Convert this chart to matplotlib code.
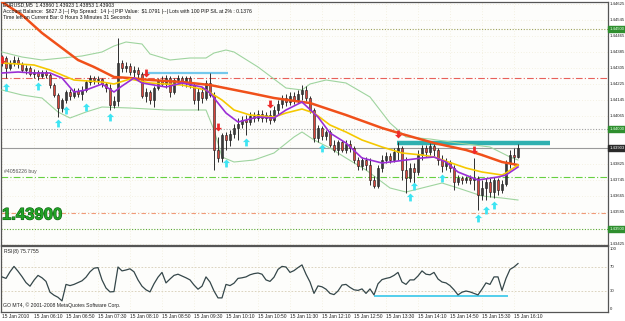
#!/usr/bin/env python3
"""
EURUSD M5 snapshot (MT4 style) redrawn with matplotlib
"""
import numpy as np
import matplotlib
matplotlib.use("Agg")
import matplotlib.pyplot as plt
import matplotlib.patheffects as pe
from matplotlib.path import Path
from matplotlib.transforms import blended_transform_factory

# ---- candles, 15 Jan 2010 05:30 .. 16:20, one bar per 5 minutes ----
OPEN = [
    1.44335, 1.44355, 1.44305, 1.44330, 1.44345, 1.44325, 1.44295, 1.44305, 1.44275, 1.44285,
    1.44265, 1.44285, 1.44270, 1.44220, 1.44170, 1.44105, 1.44145, 1.44185, 1.44165, 1.44190,
    1.44175, 1.44195, 1.44235, 1.44255, 1.44245, 1.44250, 1.44225, 1.44205, 1.44120, 1.44140,
    1.44330, 1.44305, 1.44315, 1.44285, 1.44295, 1.44275, 1.44165, 1.44185, 1.44145, 1.44205,
    1.44245, 1.44225, 1.44255, 1.44185, 1.44245, 1.44255, 1.44235, 1.44255, 1.44220, 1.44145,
    1.44185, 1.44155, 1.44230, 1.44170, 1.43895, 1.43855, 1.43970, 1.43945, 1.43975, 1.44005,
    1.44025, 1.44045, 1.44035, 1.44065, 1.44055, 1.44075, 1.44055, 1.44070, 1.44045, 1.44095,
    1.44125, 1.44155, 1.44135, 1.44165, 1.44145, 1.44175, 1.44195, 1.44155, 1.44095, 1.43955,
    1.44005, 1.43965, 1.43985, 1.43920, 1.43895, 1.43935, 1.43895, 1.43925, 1.43905, 1.43845,
    1.43815, 1.43845, 1.43820, 1.43745, 1.43715, 1.43805, 1.43845, 1.43865, 1.43845, 1.43885,
    1.43905, 1.43795, 1.43755, 1.43805, 1.43785, 1.43870, 1.43905, 1.43885, 1.43915, 1.43895,
    1.43845, 1.43815, 1.43835, 1.43805, 1.43735, 1.43755, 1.43745, 1.43755, 1.43745, 1.43755,
    1.43670, 1.43705, 1.43735, 1.43685, 1.43745, 1.43695, 1.43725, 1.43830, 1.43870, 1.43860,
]
HIGH = [
    1.44370, 1.44365, 1.44345, 1.44365, 1.44360, 1.44335, 1.44320, 1.44315, 1.44300, 1.44295,
    1.44295, 1.44295, 1.44280, 1.44230, 1.44180, 1.44155, 1.44195, 1.44200, 1.44205, 1.44205,
    1.44215, 1.44245, 1.44270, 1.44265, 1.44265, 1.44255, 1.44235, 1.44225, 1.44165, 1.44455,
    1.44345, 1.44335, 1.44330, 1.44315, 1.44310, 1.44285, 1.44205, 1.44195, 1.44215, 1.44255,
    1.44265, 1.44270, 1.44265, 1.44255, 1.44270, 1.44265, 1.44265, 1.44265, 1.44230, 1.44205,
    1.44210, 1.44245, 1.44280, 1.44185, 1.43960, 1.43980, 1.43985, 1.43995, 1.44025, 1.44055,
    1.44065, 1.44070, 1.44085, 1.44085, 1.44095, 1.44095, 1.44085, 1.44095, 1.44115, 1.44145,
    1.44170, 1.44175, 1.44185, 1.44185, 1.44195, 1.44220, 1.44215, 1.44165, 1.44105, 1.44020,
    1.44015, 1.43995, 1.43995, 1.43945, 1.43945, 1.43945, 1.43945, 1.43945, 1.43915, 1.43860,
    1.43860, 1.43860, 1.43855, 1.43765, 1.43820, 1.43870, 1.43885, 1.43880, 1.43905, 1.43935,
    1.43915, 1.43860, 1.43830, 1.43830, 1.43895, 1.43920, 1.43920, 1.43930, 1.43925, 1.43905,
    1.43870, 1.43855, 1.43845, 1.43820, 1.43770, 1.43765, 1.43765, 1.43770, 1.43855, 1.43765,
    1.43745, 1.43755, 1.43755, 1.43760, 1.43755, 1.43745, 1.43845, 1.43895, 1.43905, 1.43923,
]
LOW = [
    1.44315, 1.44255, 1.44295, 1.44315, 1.44305, 1.44285, 1.44275, 1.44265, 1.44255, 1.44245,
    1.44255, 1.44255, 1.44205, 1.44160, 1.44060, 1.44085, 1.44130, 1.44145, 1.44155, 1.44160,
    1.44145, 1.44185, 1.44220, 1.44225, 1.44225, 1.44210, 1.44185, 1.44095, 1.44105, 1.44115,
    1.44285, 1.44285, 1.44270, 1.44260, 1.44255, 1.44155, 1.44135, 1.44125, 1.44110, 1.44195,
    1.44215, 1.44205, 1.44160, 1.44175, 1.44225, 1.44215, 1.44210, 1.44205, 1.44125, 1.44095,
    1.44130, 1.44145, 1.44160, 1.43795, 1.43835, 1.43835, 1.43895, 1.43915, 1.43955, 1.43945,
    1.44005, 1.43970, 1.44020, 1.44035, 1.44040, 1.44035, 1.44035, 1.44025, 1.44035, 1.44075,
    1.44105, 1.44115, 1.44120, 1.44125, 1.44130, 1.44145, 1.44140, 1.44080, 1.43935, 1.43935,
    1.43945, 1.43945, 1.43910, 1.43885, 1.43870, 1.43885, 1.43880, 1.43885, 1.43830, 1.43795,
    1.43795, 1.43795, 1.43720, 1.43705, 1.43705, 1.43785, 1.43830, 1.43830, 1.43835, 1.43845,
    1.43745, 1.43680, 1.43735, 1.43720, 1.43770, 1.43845, 1.43860, 1.43870, 1.43865, 1.43820,
    1.43785, 1.43795, 1.43785, 1.43695, 1.43720, 1.43725, 1.43730, 1.43725, 1.43695, 1.43595,
    1.43645, 1.43645, 1.43660, 1.43655, 1.43670, 1.43680, 1.43715, 1.43805, 1.43820, 1.43853,
]
CLOSE = [
    1.44355, 1.44305, 1.44330, 1.44345, 1.44325, 1.44295, 1.44305, 1.44275, 1.44285, 1.44265,
    1.44285, 1.44270, 1.44220, 1.44170, 1.44105, 1.44145, 1.44185, 1.44165, 1.44190, 1.44175,
    1.44195, 1.44235, 1.44255, 1.44245, 1.44250, 1.44225, 1.44205, 1.44120, 1.44140, 1.44330,
    1.44305, 1.44315, 1.44285, 1.44295, 1.44275, 1.44165, 1.44185, 1.44145, 1.44205, 1.44245,
    1.44225, 1.44255, 1.44185, 1.44245, 1.44255, 1.44235, 1.44255, 1.44220, 1.44145, 1.44185,
    1.44155, 1.44230, 1.44170, 1.43895, 1.43855, 1.43970, 1.43945, 1.43975, 1.44005, 1.44025,
    1.44045, 1.44035, 1.44065, 1.44055, 1.44075, 1.44055, 1.44070, 1.44045, 1.44095, 1.44125,
    1.44155, 1.44135, 1.44165, 1.44145, 1.44175, 1.44195, 1.44155, 1.44095, 1.43955, 1.44005,
    1.43965, 1.43985, 1.43920, 1.43895, 1.43935, 1.43895, 1.43925, 1.43905, 1.43845, 1.43815,
    1.43845, 1.43820, 1.43745, 1.43715, 1.43805, 1.43845, 1.43865, 1.43845, 1.43885, 1.43905,
    1.43795, 1.43755, 1.43805, 1.43785, 1.43870, 1.43905, 1.43885, 1.43915, 1.43895, 1.43845,
    1.43815, 1.43835, 1.43805, 1.43735, 1.43755, 1.43745, 1.43755, 1.43745, 1.43755, 1.43670,
    1.43705, 1.43735, 1.43685, 1.43745, 1.43695, 1.43725, 1.43830, 1.43870, 1.43860, 1.43903,
]

# ---- indicator lines (bar index, price) ----
SLOW_MA_BAR = [0, 5, 10, 15, 19, 23, 28, 32, 37, 45, 52, 62, 68, 75, 77, 86, 95, 100, 108, 116, 120, 125, 129]
SLOW_MA = [1.44635, 1.44570, 1.44480, 1.44405, 1.44345, 1.44310, 1.44260, 1.44255, 1.44245, 1.44235,
           1.44220, 1.44180, 1.44155, 1.44135, 1.44130, 1.44070, 1.44005, 1.43975, 1.43930, 1.43895,
           1.43870, 1.43835, 1.43820]

MID_MA_BAR = [0, 8, 12, 18, 25, 28, 32, 37, 45, 51, 55, 58, 62, 68, 71, 75, 78, 82, 86, 90, 95, 100,
              105, 108, 116, 120, 125, 126, 129]
MID_MA = [1.44330, 1.44320, 1.44295, 1.44245, 1.44235, 1.44225, 1.44250, 1.44230, 1.44220, 1.44195,
          1.44145, 1.44095, 1.44070, 1.44060, 1.44080, 1.44100, 1.44080, 1.44020, 1.43985, 1.43945,
          1.43910, 1.43880, 1.43870, 1.43860, 1.43805, 1.43785, 1.43770, 1.43780, 1.43820]

FAST_MA_BAR = [0, 4, 8, 12, 15, 18, 21, 25, 28, 30, 33, 35, 41, 45, 50, 52, 54, 56, 59, 61, 64, 68,
               71, 75, 79, 82, 86, 90, 95, 97, 101, 105, 108, 111, 114, 119, 124, 126, 129]
FAST_MA = [1.44280, 1.44285, 1.44280, 1.44280, 1.44255, 1.44185, 1.44195, 1.44225, 1.44185, 1.44215,
           1.44255, 1.44230, 1.44210, 1.44230, 1.44210, 1.44180, 1.44130, 1.44080, 1.44035, 1.44045,
           1.44060, 1.44055, 1.44095, 1.44135, 1.44060, 1.43980, 1.43930, 1.43855, 1.43830, 1.43835,
           1.43845, 1.43855, 1.43860, 1.43835, 1.43785, 1.43745, 1.43760, 1.43770, 1.43810]

BB_UP_BAR = [0, 5, 10, 15, 20, 25, 28, 31, 35, 37, 42, 47, 51, 53, 56, 58, 64, 71, 75, 77, 81, 86,
             92, 97, 101, 107, 114, 122, 127, 129]
BB_UP = [1.44385, 1.44360, 1.44345, 1.44355, 1.44365, 1.44385, 1.44415, 1.44435, 1.44425, 1.44375,
         1.44345, 1.44355, 1.44355, 1.44380, 1.44395, 1.44385, 1.44310, 1.44205, 1.44195, 1.44225,
         1.44245, 1.44230, 1.44160, 1.44030, 1.43960, 1.43950, 1.43930, 1.43910, 1.43860, 1.43845]

BB_LO_BAR = [0, 5, 10, 14, 17, 21, 25, 32, 41, 51, 53, 55, 58, 63, 68, 73, 75, 78, 82, 86, 91, 97,
             101, 105, 110, 114, 120, 125, 129]
BB_LO = [1.44195, 1.44170, 1.44155, 1.44085, 1.44055, 1.44085, 1.44110, 1.44105, 1.44095, 1.44095,
         1.43995, 1.43860, 1.43835, 1.43845, 1.43880, 1.43960, 1.43985, 1.43945, 1.43905, 1.43855,
         1.43795, 1.43705, 1.43685, 1.43705, 1.43730, 1.43705, 1.43665, 1.43655, 1.43645]

# fractal style arrows
BUY_ARROW_BAR = [1, 9, 14, 16, 21, 27, 56, 61, 80, 102, 103, 110, 119, 121, 123]
BUY_ARROW = [1.44210, 1.44215, 1.44030, 1.44095, 1.44110, 1.44060, 1.43830, 1.43935, 1.43905,
             1.43660, 1.43715, 1.43755, 1.43555, 1.43595, 1.43620]
SELL_ARROW_BAR = [0, 36, 54, 67, 99, 118]
SELL_ARROW = [1.44345, 1.44280, 1.44010, 1.44125, 1.43975, 1.43895]

# RSI(8), one value per bar
RSI = [
    53.5, 51, 62, 71, 63, 54, 44, 38, 48, 56, 52, 46, 28, 23, 19.5, 13.5, 41, 39, 41, 44,
    47, 53, 62, 68, 69, 48.5, 35, 28.5, 29, 70, 63.5, 65, 67, 62, 48.5, 38, 32, 28.5, 42, 53,
    61, 43.5, 50, 56, 58, 55, 52, 48.5, 40, 33, 38, 53.5, 45, 30, 18.5, 18.5, 41, 39, 43, 51,
    52, 53.5, 57, 59, 60, 58, 48.5, 46, 53, 66, 71, 70, 61, 64, 69, 73.5, 58, 45, 26, 38.5,
    37, 33, 26, 24, 30, 40, 41, 36, 32, 31, 33.5, 26, 33.5, 23.5, 42, 49, 51, 52.5, 56, 61,
    45, 41, 48.5, 48.5, 55, 63.5, 58, 57, 61, 50, 45, 43.5, 39, 32, 23.5, 28, 30, 28.5, 26, 23.5,
    33, 43.5, 41, 53.5, 53.5, 31, 51, 66, 70, 75.7755,
]
RSI_LEVELS = [70, 30]
RSI_SUPPORT = (93, 126.5, 21)

# horizontal price lines
ROUND_LEVELS = [1.44500, 1.44000, 1.43500]
RESIST_LINE = 1.44255
ORDER_LINE = 1.43760
TARGET_LINE = 1.43580
BID = 1.43903
BOX_TOP = (35.75, 56.5, 1.44280)
BOX_BOTTOM = (98.75, 137.0, 1.43930)

PRICE_TICKS = [1.44625, 1.44545, 1.44465, 1.44385, 1.44305, 1.44225, 1.44145, 1.44065,
               1.43985, 1.43825, 1.43745, 1.43665, 1.43585, 1.43425]
TIME_LABELS = ["15 Jan 2010", "15 Jan 06:10", "15 Jan 06:50", "15 Jan 07:30", "15 Jan 08:10",
               "15 Jan 08:50", "15 Jan 09:30", "15 Jan 10:10", "15 Jan 10:50", "15 Jan 11:30",
               "15 Jan 12:10", "15 Jan 12:50", "15 Jan 13:30", "15 Jan 14:10", "15 Jan 14:50",
               "15 Jan 15:30", "15 Jan 16:10"]
TIME_LABEL_BAR = list(range(0, 129, 8))

HEADER = [
    "EURUSD,M5  1.43860 1.43923 1.43853 1.43903",
    "Account Balance:  \\$627.3 |--| Pip Spread:  14 |--| PIP Value:  \\$1.0791 |--| Lots with 100 PIP S/L at 2% : 0.1376",
    "Time left on Current Bar: 0 Hours 3 Minutes 31 Seconds",
]

W, H = 625, 321
FONT = ["Liberation Sans", "DejaVu Sans"]
SMALL = dict(family=FONT, fontsize=3.7)
TINY = dict(family=FONT, fontsize=3.1)
AXIS = dict(family=FONT, fontsize=3.55)

UP = Path([(0, 1), (0.9, 0.1), (0.35, 0.1), (0.35, -1), (-0.35, -1), (-0.35, 0.1), (-0.9, 0.1), (0, 1)],
          [Path.MOVETO] + [Path.LINETO] * 6 + [Path.CLOSEPOLY])
DOWN = Path([(x, -y) for x, y in UP.vertices], UP.codes)


def px(x, y):
    return x / W, 1 - y / H


def draw_candles(ax):
    o, h, l, c = (np.array(a) for a in (OPEN, HIGH, LOW, CLOSE))
    x = np.arange(len(c))
    up = c >= o
    ax.vlines(x, l, h, color="#2e2e2e", lw=0.7, zorder=4)
    bottom = np.minimum(o, c)
    height = np.maximum(np.abs(c - o), 0.00002)
    ax.bar(x[up], height[up], bottom=bottom[up], width=0.72, color="#3a3a3a",
           edgecolor="#1e1e1e", lw=0.4, zorder=5)
    ax.bar(x[~up], height[~up], bottom=bottom[~up], width=0.72, color="#d8463c",
           edgecolor="#1e1e1e", lw=0.4, zorder=5)


def price_flag(ax, price, text, bg, fg):
    trans = blended_transform_factory(ax.transAxes, ax.transData)
    ax.text(1.0025, price, text, transform=trans, ha="left", va="center", color=fg,
            bbox=dict(boxstyle="square,pad=0.25", fc=bg, ec=bg), zorder=10, clip_on=False, **TINY)


def main():
    fig = plt.figure(figsize=(W / 100, H / 100), dpi=100, facecolor="white")

    # ==== #
    # MAIN #
    # ==== #
    ax = fig.add_axes([1 / W, (H - 245) / H, 607 / W, 243 / H], facecolor="#fdfdfb")
    ax.set_xlim(-0.25, 151.5)
    ax.set_ylim(1.43420, 1.44635)
    ax.set_xticks([])
    ax.set_yticks([])
    for s in ax.spines.values():
        s.set_color("#555555")
        s.set_linewidth(0.9)

    # faint dotted grid
    for p in PRICE_TICKS:
        ax.axhline(p, color="#ebe6cc", lw=0.5, ls=(0, (1, 3)), zorder=0)
    for b in TIME_LABEL_BAR:
        ax.axvline(b, color="#ebe6cc", lw=0.5, ls=(0, (1, 3)), zorder=0)

    ax.axhline(ROUND_LEVELS[0], color="#9da25c", lw=0.8, ls=(0, (1, 1.5)), zorder=1)
    ax.axhline(ROUND_LEVELS[1], color="#a0a0a0", lw=0.8, ls=(0, (1, 1.5)), zorder=1)
    ax.axhline(ROUND_LEVELS[2], color="#5aa832", lw=0.8, ls=(0, (1, 1.5)), zorder=1)
    ax.axhline(RESIST_LINE, color="#e8605a", lw=0.8, ls=(0, (6, 2, 1, 2)), zorder=1)
    ax.axhline(ORDER_LINE, color="#66d040", lw=0.8, ls=(0, (6, 2, 1, 2)), zorder=1)
    ax.axhline(TARGET_LINE, color="#f09a78", lw=0.8, ls=(0, (4, 2, 1, 2)), zorder=1)
    ax.axhline(BID, color="#9a9a9a", lw=0.8, zorder=1)

    ax.hlines(BOX_TOP[2], BOX_TOP[0], BOX_TOP[1], color="#74c8ec", lw=1.6, zorder=2)
    ax.hlines(BOX_BOTTOM[2], BOX_BOTTOM[0], BOX_BOTTOM[1], color="#2fb0b0", lw=3.2, zorder=2)

    ax.plot(BB_UP_BAR, BB_UP, color="#9fd49f", lw=0.8, zorder=3)
    ax.plot(BB_LO_BAR, BB_LO, color="#9fd49f", lw=0.8, zorder=3)

    draw_candles(ax)

    ax.plot(SLOW_MA_BAR, SLOW_MA, color="#f0501a", lw=1.8, zorder=6, solid_capstyle="round")
    ax.plot(MID_MA_BAR, MID_MA, color="#f5c800", lw=1.2, zorder=6)
    ax.plot(FAST_MA_BAR, FAST_MA, color="#9b2fd6", lw=1.2, zorder=7)

    ax.scatter(BUY_ARROW_BAR, BUY_ARROW, marker=UP, s=32, color="#3ee4f2", lw=0, zorder=8)
    ax.scatter(SELL_ARROW_BAR, SELL_ARROW, marker=DOWN, s=32, color="#ee2a2a", lw=0, zorder=8)

    # right price scale
    trans = blended_transform_factory(ax.transAxes, ax.transData)
    for p in PRICE_TICKS:
        ax.text(1.0035, p, "%.5f" % p, transform=trans, ha="left", va="center",
                color="#222222", clip_on=False, **TINY)
    for p in ROUND_LEVELS:
        price_flag(ax, p, "%.5f" % p, "#2f8f2f", "#e8ffe8")
    price_flag(ax, BID, "%.5f" % BID, "#2a2a2a", "white")

    # texts on the chart
    for i, line in enumerate(HEADER):
        fig.text(*px(3, 5 + 6.2 * i), line, ha="left", va="center", color="#111111", **SMALL)
    fig.text(*px(4, 172), "#4056226 buy", ha="left", va="center", color="#555555", **SMALL)
    t = fig.text(*px(2, 215), "1.43900", ha="left", va="center", color="#22a326",
                 family="Liberation Sans", fontweight="bold", fontsize=12)
    t.set_path_effects([pe.withStroke(linewidth=0.8, foreground="#0d5e12")])

    # === #
    # RSI #
    # === #
    rsi = fig.add_axes([1 / W, (H - 312) / H, 607 / W, 66 / H], facecolor="#fdfdfb")
    rsi.set_xlim(-0.25, 151.5)
    rsi.set_ylim(-5, 105)
    rsi.set_xticks([])
    rsi.set_yticks([])
    for s in rsi.spines.values():
        s.set_color("#555555")
        s.set_linewidth(0.9)
    for lvl in RSI_LEVELS:
        rsi.axhline(lvl, color="#d6ccb4", lw=0.6, ls=(0, (2, 2)), zorder=1)
    for b in TIME_LABEL_BAR:
        rsi.axvline(b, color="#ebe6cc", lw=0.5, ls=(0, (1, 3)), zorder=0)
    rsi.hlines(RSI_SUPPORT[2], RSI_SUPPORT[0], RSI_SUPPORT[1], color="#35c6ea", lw=1.2, zorder=2)
    rsi.plot(np.arange(len(RSI)), RSI, color="#35474a", lw=0.9, zorder=3)

    rtrans = blended_transform_factory(rsi.transAxes, rsi.transData)
    for lvl in [100] + RSI_LEVELS + [0]:
        rsi.text(1.0035, lvl, str(lvl), transform=rtrans, ha="left", va="center",
                 color="#222222", clip_on=False, **TINY)
    fig.text(*px(4, 252), "RSI(8) %.4f" % RSI[-1], ha="left", va="center", color="#222222", **SMALL)
    fig.text(*px(3, 305), "GO MT4, \u00a9 2001-2008 MetaQuotes Software Corp.", ha="left",
             va="center", color="#222222", **SMALL)

    # time scale
    btrans = blended_transform_factory(rsi.transData, rsi.transAxes)
    for b, lab in zip(TIME_LABEL_BAR, TIME_LABELS):
        rsi.text(b, -0.065, lab, transform=btrans, ha="left", va="center",
                 color="#222222", clip_on=False, **AXIS)

    fig.savefig("out.png", dpi=100, facecolor="white")


if __name__ == "__main__":
    main()
